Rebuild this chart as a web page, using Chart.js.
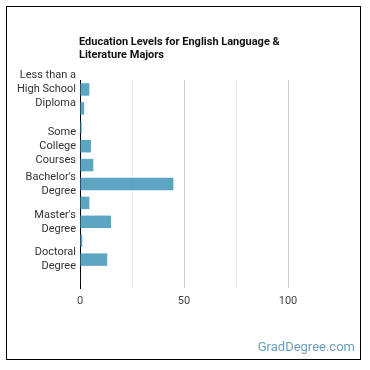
<!DOCTYPE html>
<html>
<head>
<meta charset="utf-8">
<script src="https://cdn.jsdelivr.net/npm/chart.js@4"></script>
<style>
    body { margin: 0; background: #fff; }
    #wrap { position: relative; width: 370px; height: 370px; font-family: Roboto, sans-serif; }
    #frame { position: absolute; left: 6px; top: 6px; width: 355px; height: 354px; border: 1px solid #000; box-sizing: border-box; }
    #title { position: absolute; left: 79px; top: 35px; font-size: 11px; font-weight: bold; line-height: 13px; color: #111; }
    #brand { position: absolute; right: 15px; top: 339px; font-size: 13px; color: #6a9fbd; }
    canvas { position: absolute; left: 0; top: 0; }
</style>
</head>
<body>
<div id="wrap">
    <canvas id="chart" width="370" height="370"></canvas>
    <div id="frame"></div>
    <div id="title">Education Levels for English Language &amp;<br>Literature Majors</div>
    <div id="brand">GradDegree.com</div>
</div>
<script>
// categories (only some have labels shown in the picture)
const categories = [
    ['Less than a', 'High School', 'Diploma'],
    '',
    '',
    ['Some', 'College', 'Courses'],
    '',
    ["Bachelor's", 'Degree'],
    '',
    ["Master's", 'Degree'],
    '',
    ['Doctoral', 'Degree'],
    ''
];
const percents = [4.5, 2.0, 0.8, 5.3, 6.4, 44.9, 4.5, 14.9, 1.1, 13.1, 0.3];
const xTicks = [0, 50, 100];

const barColor = '#5ca5c3';

new Chart(document.getElementById('chart'), {
    type: 'bar',
    data: {
        labels: categories,
        datasets: [{
            data: percents,
            backgroundColor: barColor,
            barPercentage: 0.66,
            categoryPercentage: 1.0
        }]
    },
    options: {
        indexAxis: 'y',
        responsive: false,
        animation: false,
        devicePixelRatio: 1,
        layout: { padding: { left: 0, top: 80, right: 30, bottom: 0 } },
        plugins: {
            legend: { display: false },
            tooltip: { enabled: false }
        },
        scales: {
            x: {
                min: 0,
                max: 125,
                afterFit: (scale) => { scale.height = 82; },
                border: { display: false },
                grid: {
                    drawTicks: false,
                    color: (ctx) => {
                        const v = ctx.tick ? ctx.tick.value : null;
                        if (v === 0 || v === 125) return 'rgba(0,0,0,0)';
                        return (v % 50 === 0) ? '#cccccc' : '#e8e8e8';
                    }
                },
                ticks: {
                    stepSize: 25,
                    padding: 7,
                    color: '#444',
                    font: { family: 'Roboto', size: 11 },
                    callback: (v) => xTicks.includes(v) ? v : ''
                }
            },
            y: {
                afterFit: (scale) => { scale.width = 80; },
                border: { display: true, color: '#000', width: 1 },
                grid: { display: false, drawTicks: false },
                ticks: {
                    autoSkip: false,
                    padding: 4,
                    color: '#333',
                    font: { family: 'Roboto', size: 11, lineHeight: 1.28 }
                }
            }
        }
    }
});
</script>
</body>
</html>
